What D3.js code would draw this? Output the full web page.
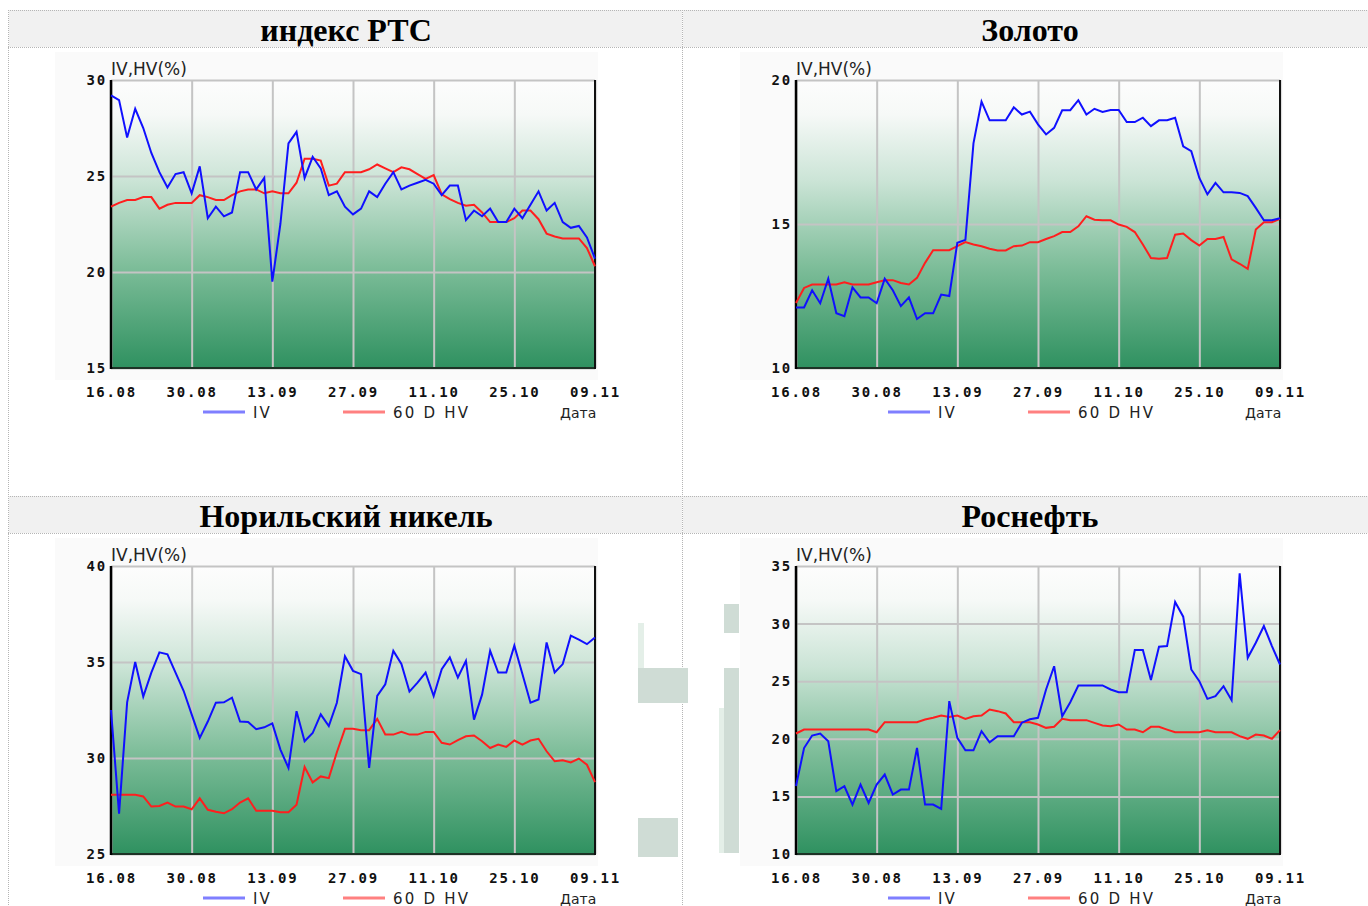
<!DOCTYPE html>
<html>
<head>
<meta charset="utf-8">
<script src="https://cdn.jsdelivr.net/npm/d3@7"></script>
<style>
body { margin: 0; background: #fff; overflow: hidden; }
.axis text { font-family: "DejaVu Sans Mono", monospace; font-weight: bold; font-size: 14px; fill: #111; letter-spacing: 1.8px; }
.axis line { stroke: #c4c4c4; stroke-width: 2; }
.axis path { display: none; }
</style>
</head>
<body>
<script>
// labels
var titles = ["индекс РТС", "Золото", "Норильский никель", "Роснефть"];
var dateLabels = ["16.08", "30.08", "13.09", "27.09", "11.10", "25.10", "09.11"];
var dateIndex = [0, 10, 20, 30, 40, 50, 60];
var yRanges = [[15, 30], [10, 20], [25, 40], [10, 35]];
var legendNames = ["IV", "60 D HV"];

// series, one value per trading day
var rtsIV = [29.2, 28.95, 27.0, 28.5, 27.5, 26.2, 25.2, 24.4, 25.1, 25.2,
    24.1, 25.5, 22.8, 23.4, 22.9, 23.1, 25.2, 25.2, 24.3, 24.9,
    19.5, 22.5, 26.7, 27.3, 24.9, 26.0, 25.4, 24.0, 24.2, 23.4,
    23.0, 23.3, 24.2, 23.9, 24.6, 25.2, 24.3, 24.5, 24.65, 24.8,
    24.6, 24.0, 24.5, 24.5, 22.7, 23.2, 22.9, 23.3, 22.6, 22.6,
    23.3, 22.8, 23.5, 24.2, 23.2, 23.6, 22.6, 22.3, 22.4, 21.8, 20.7];
var rtsHV = [23.4, 23.6, 23.75, 23.75, 23.9, 23.9, 23.3, 23.5, 23.6, 23.6,
    23.6, 24.0, 23.9, 23.75, 23.75, 24.0, 24.2, 24.3, 24.3, 24.1,
    24.2, 24.1, 24.1, 24.65, 25.9, 25.9, 25.8, 24.5, 24.6, 25.2,
    25.2, 25.2, 25.35, 25.6, 25.4, 25.2, 25.45, 25.35, 25.1, 24.85,
    25.05, 24.05, 23.8, 23.6, 23.45, 23.5, 23.1, 22.6, 22.6, 22.6,
    22.8, 23.2, 23.2, 22.75, 22.0, 21.85, 21.75, 21.75, 21.75, 21.25, 20.3];
var goldIV = [12.1, 12.1, 12.7, 12.25, 13.1, 11.9, 11.8, 12.8, 12.45, 12.45,
    12.25, 13.1, 12.7, 12.15, 12.45, 11.7, 11.9, 11.9, 12.55, 12.5,
    14.35, 14.45, 17.8, 19.25, 18.6, 18.6, 18.6, 19.05, 18.8, 18.9,
    18.46, 18.11, 18.34, 18.95, 18.95, 19.3, 18.8, 19.0, 18.89, 18.96,
    18.96, 18.54, 18.54, 18.69, 18.4, 18.6, 18.6, 18.69, 17.7, 17.53,
    16.6, 16.03, 16.43, 16.1, 16.1, 16.08, 15.97, 15.56, 15.13, 15.13, 15.2];
var goldHV = [12.26, 12.78, 12.9, 12.9, 12.9, 12.9, 12.98, 12.9, 12.9, 12.9,
    12.98, 13.05, 13.05, 12.95, 12.9, 13.13, 13.65, 14.09, 14.09, 14.09,
    14.23, 14.37, 14.29, 14.23, 14.14, 14.08, 14.08, 14.23, 14.25, 14.37,
    14.37, 14.48, 14.58, 14.72, 14.72, 14.92, 15.27, 15.15, 15.13, 15.13,
    14.98, 14.9, 14.72, 14.29, 13.82, 13.79, 13.82, 14.63, 14.67, 14.44,
    14.25, 14.48, 14.48, 14.55, 13.77, 13.62, 13.44, 14.81, 15.06, 15.06, 15.18];
var nickelIV = [32.5, 27.1, 32.9, 35.0, 33.2, 34.45, 35.5, 35.4, 34.45, 33.5,
    32.27, 31.05, 31.9, 32.88, 32.9, 33.14, 31.9, 31.87, 31.5, 31.6,
    31.8, 30.44, 29.48, 32.44, 30.87, 31.3, 32.27, 31.66, 32.88, 35.3,
    34.54, 34.37, 29.48, 33.23, 33.84, 35.58, 34.9, 33.46, 33.93, 34.45,
    33.23, 34.63, 35.24, 34.19, 35.06, 32.0, 33.3, 35.58, 34.45, 34.45,
    35.85, 34.37, 32.88, 33.05, 36.02, 34.45, 34.89, 36.37, 36.16, 35.93, 36.28];
var nickelHV = [28.08, 28.08, 28.08, 28.08, 28.0, 27.47, 27.5, 27.68, 27.47, 27.47,
    27.33, 27.9, 27.3, 27.2, 27.12, 27.33, 27.68, 27.9, 27.25, 27.25,
    27.25, 27.17, 27.17, 27.57, 29.53, 28.73, 29.04, 28.95, 30.3, 31.52,
    31.52, 31.45, 31.45, 32.04, 31.22, 31.22, 31.36, 31.22, 31.22, 31.36,
    31.36, 30.79, 30.7, 30.93, 31.13, 31.17, 30.87, 30.52, 30.7, 30.58,
    30.91, 30.7, 30.91, 31.0, 30.35, 29.83, 29.88, 29.77, 29.97, 29.65, 28.74];
var rosnIV = [15.9, 19.2, 20.28, 20.46, 19.79, 15.45, 15.88, 14.29, 16.03, 14.43,
    16.03, 16.9, 15.16, 15.59, 15.59, 19.2, 14.29, 14.29, 13.91, 23.27,
    20.08, 19.0, 19.0, 20.66, 19.7, 20.23, 20.23, 20.23, 21.4, 21.7,
    21.82, 24.28, 26.3, 21.96, 23.18, 24.63, 24.63, 24.63, 24.63, 24.28,
    24.05, 24.05, 27.7, 27.7, 25.1, 27.99, 28.05, 31.87, 30.6, 26.02,
    25.0, 23.47, 23.7, 24.57, 23.35, 34.36, 27.03, 28.34, 29.79, 28.05, 26.45];
var rosnHV = [20.46, 20.8, 20.8, 20.8, 20.8, 20.8, 20.8, 20.8, 20.8, 20.8,
    20.57, 21.44, 21.44, 21.44, 21.44, 21.44, 21.67, 21.82, 22.02, 21.9,
    22.02, 21.73, 21.96, 22.02, 22.54, 22.4, 22.2, 21.44, 21.44, 21.44,
    21.24, 20.95, 21.04, 21.73, 21.62, 21.62, 21.62, 21.38, 21.15, 21.1,
    21.24, 20.8, 20.8, 20.57, 21.04, 21.04, 20.8, 20.57, 20.57, 20.57,
    20.57, 20.75, 20.57, 20.57, 20.57, 20.23, 20.0, 20.37, 20.28, 20.0, 20.75];

var ivSeries = [rtsIV, goldIV, nickelIV, rosnIV];
var hvSeries = [rtsHV, goldHV, nickelHV, rosnHV];

// layout
var width = 1368, height = 906;
var cellX = [8, 682], cellW = [674, 700], rowY = [10, 496], headH = 37;
var titleX = [346, 1030];
var imgX = [55, 740], imgY = [52, 538];
var imgW = 543, imgH = 328;
var plotL = 56, plotT = 28, plotW = 484, plotH = 288;

var svg = d3.select("body").append("svg")
    .attr("width", width)
    .attr("height", height);

var grad = svg.append("defs").append("linearGradient")
    .attr("id", "bgGrad")
    .attr("x1", 0).attr("y1", 0).attr("x2", 0).attr("y2", 1);
[[0, "#fdfdfd"], [0.12, "#f6f9f7"], [0.35, "#cbe4d6"], [0.65, "#7dbd99"], [1, "#2f9160"]]
    .forEach(function(s) {
        grad.append("stop").attr("offset", s[0]).attr("stop-color", s[1]);
    });

// table cells and headers
for (var r = 0; r < 2; r++) {
    for (var c = 0; c < 2; c++) {
        svg.append("rect")
            .attr("x", cellX[c] + 1).attr("y", rowY[r])
            .attr("width", cellW[c] - 1).attr("height", headH)
            .attr("fill", "#f1f1f1");
        [rowY[r] + 0.5, rowY[r] + headH + 0.5].forEach(function(yy) {
            svg.append("line")
                .attr("x1", cellX[c]).attr("x2", cellX[c] + cellW[c])
                .attr("y1", yy).attr("y2", yy)
                .attr("stroke", "#b5b5b5")
                .attr("stroke-dasharray", "1,1");
        });
        svg.append("text")
            .attr("x", titleX[c]).attr("y", rowY[r] + 31)
            .attr("text-anchor", "middle")
            .style("font-family", "'Liberation Serif', 'Times New Roman', serif")
            .style("font-weight", "bold")
            .style("font-size", "32px")
            .style("fill", "#000")
            .text(titles[r * 2 + c]);
    }
}
cellX.forEach(function(xx) {
    svg.append("line")
        .attr("x1", xx + 0.5).attr("x2", xx + 0.5)
        .attr("y1", rowY[0]).attr("y2", height)
        .attr("stroke", "#b5b5b5")
        .attr("stroke-dasharray", "1,1");
});

// leftover image fragments between the bottom charts
var scraps = [[638, 623, 6, 45, "#e4efe8"], [638, 668, 50, 35, "#cfdcd5"], [638, 818, 40, 39, "#cfdcd5"],
    [724, 604, 15, 29, "#cfdcd5"], [724, 668, 15, 185, "#cfdcd5"], [719, 708, 5, 145, "#e4efe8"]];
scraps.forEach(function(s) {
    svg.append("rect").attr("x", s[0]).attr("y", s[1])
        .attr("width", s[2]).attr("height", s[3]).attr("fill", s[4]);
});

var drawChart = function(k) {
    var g = svg.append("g")
        .attr("transform", "translate(" + imgX[k % 2] + "," + imgY[Math.floor(k / 2)] + ")");

    g.append("rect")
        .attr("width", imgW).attr("height", imgH)
        .attr("fill", "#fafafa");

    var xScale = d3.scaleLinear().domain([0, 60]).range([plotL, plotL + plotW]);
    var yScale = d3.scaleLinear().domain(yRanges[k]).range([plotT + plotH, plotT]);

    g.append("rect")
        .attr("x", plotL).attr("y", plotT)
        .attr("width", plotW).attr("height", plotH)
        .attr("fill", "url(#bgGrad)");

    g.append("g")
        .attr("class", "axis axis--x")
        .attr("transform", "translate(0," + (plotT + plotH) + ")")
        .call(d3.axisBottom(xScale)
            .tickValues(dateIndex)
            .tickSize(-plotH)
            .tickPadding(19)
            .tickFormat(function(d, i) { return dateLabels[i]; }));

    g.append("g")
        .attr("class", "axis axis--y")
        .attr("transform", "translate(" + plotL + ",0)")
        .call(d3.axisLeft(yScale)
            .tickValues(d3.range(yRanges[k][0], yRanges[k][1] + 1, 5))
            .tickSize(-plotW)
            .tickPadding(4));

    // frame: grey top, black left / right / bottom
    g.append("line").attr("x1", plotL).attr("x2", plotL + plotW)
        .attr("y1", plotT + plotH).attr("y2", plotT + plotH)
        .attr("stroke", "#1d3326").attr("stroke-width", 2);
    g.append("line").attr("x1", plotL).attr("x2", plotL)
        .attr("y1", plotT).attr("y2", plotT + plotH + 1)
        .attr("stroke", "#000").attr("stroke-width", 2.5);
    g.append("line").attr("x1", plotL + plotW).attr("x2", plotL + plotW)
        .attr("y1", plotT).attr("y2", plotT + plotH + 1)
        .attr("stroke", "#111").attr("stroke-width", 2);

    var path = d3.line()
        .x(function(d, i) { return xScale(i); })
        .y(function(d) { return yScale(d); });

    g.append("path")
        .datum(hvSeries[k])
        .attr("d", path)
        .attr("fill", "none")
        .attr("stroke", "#ff1e1e")
        .attr("stroke-width", 2);

    g.append("path")
        .datum(ivSeries[k])
        .attr("d", path)
        .attr("fill", "none")
        .attr("stroke", "#1010ff")
        .attr("stroke-width", 2);

    g.append("text")
        .attr("x", plotL).attr("y", plotT - 5)
        .style("font-family", "'DejaVu Sans', Verdana, sans-serif")
        .style("font-size", "17px")
        .style("fill", "#222")
        .text("IV,HV(%)");

    // legend
    var legendColors = ["#7f7fff", "#ff8080"];
    var legendX = [148, 288];
    legendNames.forEach(function(name, i) {
        g.append("line")
            .attr("x1", legendX[i]).attr("x2", legendX[i] + 42)
            .attr("y1", 360).attr("y2", 360)
            .attr("stroke", legendColors[i]).attr("stroke-width", 3);
        g.append("text")
            .attr("x", legendX[i] + 50).attr("y", 366)
            .style("font-family", "'DejaVu Sans', sans-serif")
            .style("font-size", "15px")
            .style("letter-spacing", "2.2px")
            .style("fill", "#222")
            .text(name);
    });
    g.append("text")
        .attr("x", 505).attr("y", 366)
        .style("font-family", "'DejaVu Sans', sans-serif")
        .style("font-size", "14px")
        .style("fill", "#222")
        .text("Дата");
};

for (var k = 0; k < 4; k++) drawChart(k);
</script>
</body>
</html>
